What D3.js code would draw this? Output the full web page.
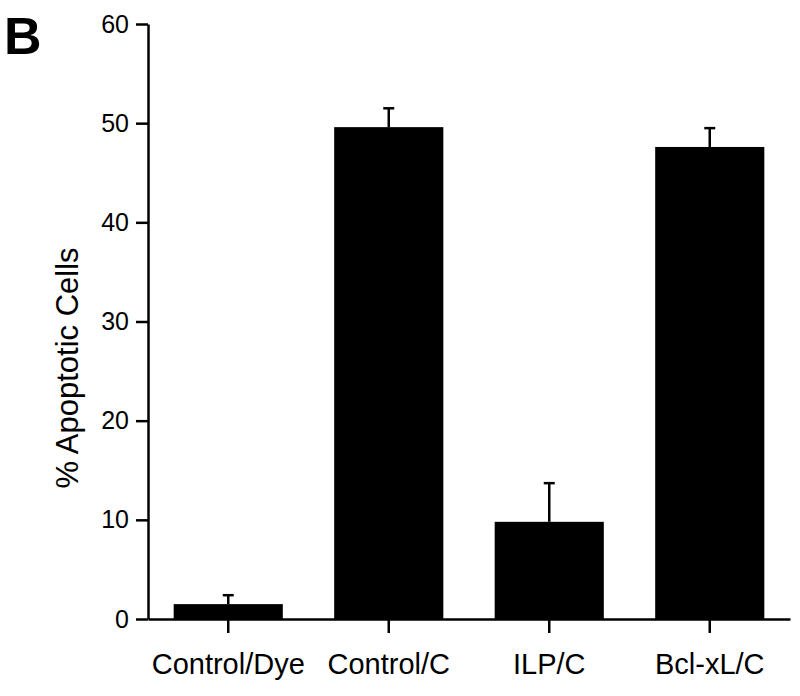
<!DOCTYPE html>
<html>
<head>
<meta charset="utf-8">
<script src="https://cdn.jsdelivr.net/npm/d3@7"></script>
<style>
  body { margin: 0; background: #fff; }
  svg { display: block; font-family: 'Liberation Sans', Arial, sans-serif; }
</style>
</head>
<body>
<div id="chart"></div>
<script>
const groups = ['Control/Dye', 'Control/C', 'ILP/C', 'Bcl-xL/C']
const means = [1.5, 49.6, 9.8, 47.6]
const errors = [0.9, 1.9, 3.9, 1.9]
const yTicks = [0, 10, 20, 30, 40, 50, 60]

const width = 800
const height = 696
const margins = { left: 148, right: 790, top: 24, bottom: 619 }

const svg = d3.select('#chart').append('svg')
  .attr('width', width)
  .attr('height', height)

const x = d3.scaleBand()
  .domain(groups)
  .range([margins.left, margins.right])
  .paddingInner(0.32)
  .paddingOuter(0.16)

const y = d3.scaleLinear()
  .domain([0, 60])
  .range([margins.bottom, margins.top])

// bars
svg.append('g').selectAll('rect')
  .data(groups)
  .join('rect')
  .attr('x', d => x(d))
  .attr('y', (d, i) => y(means[i]))
  .attr('width', x.bandwidth())
  .attr('height', (d, i) => y(0) - y(means[i]))
  .attr('fill', '#000')

// error bars, upper half only
const err = svg.append('g')
  .attr('stroke', '#000')
  .attr('stroke-width', 2.5)
groups.forEach((g, i) => {
  const cx = x(g) + x.bandwidth() / 2
  err.append('line')
    .attr('x1', cx).attr('x2', cx)
    .attr('y1', y(means[i])).attr('y2', y(means[i] + errors[i]))
  err.append('line')
    .attr('x1', cx - 5.5).attr('x2', cx + 5.5)
    .attr('y1', y(means[i] + errors[i])).attr('y2', y(means[i] + errors[i]))
})

// y axis
const yAxis = svg.append('g')
  .attr('transform', `translate(${margins.left},0)`)
  .call(d3.axisLeft(y).tickValues(yTicks).tickSize(12).tickPadding(7).tickSizeOuter(0))
yAxis.select('.domain').attr('stroke-width', 2.5)
yAxis.selectAll('.tick line').attr('stroke-width', 2.5)
yAxis.selectAll('.tick text')
  .attr('font-size', 25)
  .attr('fill', '#000')
  .attr('font-family', 'Liberation Sans, Arial, sans-serif')

// x axis
const xAxis = svg.append('g')
  .attr('transform', `translate(0,${margins.bottom})`)
  .call(d3.axisBottom(x).tickSize(14).tickPadding(20).tickSizeOuter(0))
xAxis.select('.domain').attr('stroke-width', 2.5)
xAxis.selectAll('.tick line').attr('stroke-width', 2.5)
xAxis.selectAll('.tick text')
  .attr('font-size', 29)
  .attr('fill', '#000')
  .attr('font-family', 'Liberation Sans, Arial, sans-serif')

// y label
svg.append('text')
  .attr('transform', `translate(78,368) rotate(-90)`)
  .attr('text-anchor', 'middle')
  .attr('font-size', 31)
  .text('% Apoptotic Cells')

// panel letter
svg.append('text')
  .attr('x', 4)
  .attr('y', 54)
  .attr('font-size', 52)
  .attr('font-weight', 'bold')
  .text('B')
</script>
</body>
</html>
